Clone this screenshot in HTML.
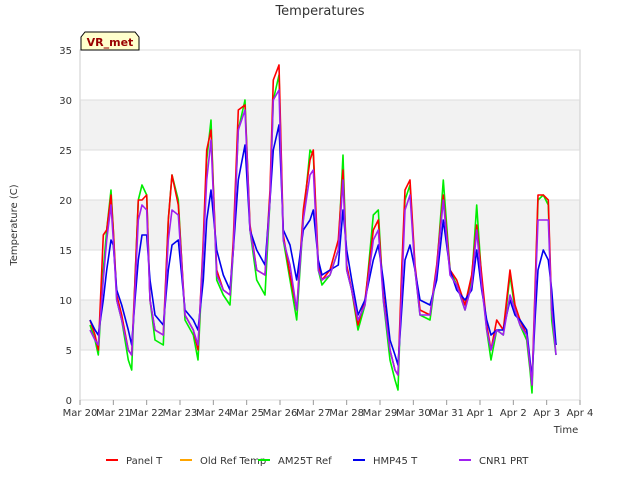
<!DOCTYPE html>
<html><head><meta charset="utf-8"><style>
body{margin:0;background:#fff;font-family:"Liberation Sans","DejaVu Sans",sans-serif}
svg text{font-family:"DejaVu Sans","Liberation Sans",sans-serif}
</style></head><body>
<svg id="chart" width="640" height="480">
<text x="320" y="15" text-anchor="middle" font-size="13" fill="#333">Temperatures</text>
<g id="bands"></g>
<rect x="80" y="50" width="500" height="350" fill="none" stroke="#ccc"/>
<g id="yticks"></g><g id="xticks"></g>
<g id="series"></g>
<text transform="translate(17,225) rotate(-90)" text-anchor="middle" font-size="10" fill="#333">Temperature (C)</text>
<text x="566" y="433" text-anchor="middle" font-size="10" fill="#333">Time</text>
<g>
<path d="M81,50 L81,37 L85,32 L135,32 L139,37 L139,50 Z" fill="#ffffcc" stroke="#000"/>
<text x="110" y="46" text-anchor="middle" font-size="11" font-weight="bold" fill="#990000">VR_met</text></g>
<g id="legend"></g>
</svg>
<script>
const yTicks=[0,5,10,15,20,25,30,35];
const xTickLabels=["Mar 20","Mar 21","Mar 22","Mar 23","Mar 24","Mar 25","Mar 26","Mar 27","Mar 28","Mar 29","Mar 30","Mar 31","Apr 1","Apr 2","Apr 3","Apr 4"];
const times=[0.3,0.45,0.55,0.7,0.8,0.93,1.0,1.1,1.25,1.45,1.55,1.65,1.75,1.86,2.0,2.1,2.25,2.5,2.65,2.76,2.95,3.15,3.4,3.54,3.7,3.8,3.93,4.1,4.3,4.5,4.6,4.75,4.95,5.1,5.3,5.55,5.7,5.8,5.97,6.1,6.3,6.5,6.7,6.9,7.0,7.15,7.26,7.5,7.75,7.89,8.0,8.15,8.34,8.55,8.8,8.95,9.1,9.3,9.45,9.54,9.65,9.75,9.9,10.05,10.2,10.5,10.7,10.9,11.1,11.3,11.55,11.75,11.9,12.05,12.2,12.33,12.5,12.7,12.9,13.05,13.2,13.4,13.5,13.56,13.65,13.74,13.9,14.05,14.15,14.28];
const am25t=[7.5,6,4.5,13,17,21,17,10,8,4,3,12,20,21.5,20.5,10,6,5.5,18,22.5,20,8,6.5,4,15,24,28,12,10.5,9.5,15,27,30,17,12,10.5,20,30,32.5,16,12,8,18,25,24.5,13,11.5,12.5,15,24.5,13,11,7,9.5,18.5,19,10,4,2,1,12,20,21.5,13,8.5,8,13,22,13,11.5,9,12,19.5,12,7,4,7,6.5,12.5,9,7.5,6,3,0.7,10,20,20.5,19.5,8,4.5];
const panelT=[8,6.5,5,16.5,17,20.5,17,10.5,8.5,5,4.5,12,20,20,20.5,10,7,6.5,18,22.5,19.5,8.5,7,5,16,25,27,13,11,10.5,16,29,29.5,17.5,13,12.5,21,32,33.5,16.5,12.5,9,19,24,25,13.5,12,13,16,23,13.5,11,7.5,10,17,18,10.5,5,3,2.5,13,21,22,13.5,9,8.5,13.5,20.5,13,12,9.5,12.5,17.5,12.5,7.5,5,8,7,13,9.5,8,6.5,3.5,1.5,11,20.5,20.5,20,9,5.5];
const hmp45=[8,7,6.5,10,13,16,15.5,11,9.5,7,5.5,10,14,16.5,16.5,12,8.5,7.5,13,15.5,16,9,8,7,12,18,21,15,12.5,11,15,22,25.5,17,15,13.5,20,25,27.5,17,15.5,12,17,18,19,14,12.5,13,13.5,19,15,12,8.5,10,14,15.5,12,6,4.5,3.5,9,14,15.5,13,10,9.5,12,18,13,11,10,11,15,11,8,6.5,7,7,10,8.5,8,7,4,2,8,13,15,14,11,5.5];
const cnr1=[7,6,5.5,12,16,19.5,16,10,8,5,4.5,11,18,19.5,19,10,7,6.5,16,19,18.5,8.5,7,5.5,15,22,26,12.5,11,10.5,15,27,29,17,13,12.5,20,30,31,16,13.5,9,18,22.5,23,13,12,12.5,15,22,13,11,8,9.5,16,17,10,5,3,2.5,11,19,20.5,13,8.5,8.5,13,20,12.5,11.5,9,11.5,17,11.5,7,5,7,6.5,10.5,9,7.5,6.5,3.5,1.5,10,18,18,18,9,4.5];
const X=d=>80+d*500/15, Y=v=>400-v*10;
const NS="http://www.w3.org/2000/svg";
function mk(t,a,p){const e=document.createElementNS(NS,t);for(const k in a)e.setAttribute(k,a[k]);p.appendChild(e);return e;}
const bands=document.getElementById('bands');
[[5,10],[15,20],[25,30]].forEach(b=>{const r=mk('rect',{x:80,y:Y(b[1]),width:500,height:50,fill:'#f2f2f2'},bands);

});
const yt=document.getElementById('yticks');
yTicks.forEach(v=>{const l=mk('line',{x1:80,x2:580,y1:Y(v),y2:Y(v),stroke:'#ddd'},yt);


const t=mk('text',{x:72,y:Y(v)+4,'text-anchor':'end','font-size':10,fill:'#333'},yt);t.textContent=v;

});
const xt=document.getElementById('xticks');
xTickLabels.forEach((s,i)=>{mk('line',{x1:X(i),x2:X(i),y1:400,y2:405,stroke:'#999'},xt);
const t=mk('text',{x:X(i),y:416,'text-anchor':'middle','font-size':10,fill:'#333'},xt);t.textContent=s;

});
const series=[["green",am25t,"am25t-line"],["red",panelT,"panel-t-line"],["#0000ee",hmp45,"hmp45-line"],["#a020f0",cnr1,"cnr1-prt-line"]];
const sg=document.getElementById('series');
series.forEach(s=>{const col=s[0]==="green"?"#00ee00":s[0];
const d=s[1].map((v,i)=>(i?'L':'M')+X(times[i]).toFixed(1)+','+Y(v).toFixed(1)).join('');
const p=mk('path',{d:d,fill:'none',stroke:col,'stroke-width':1.6,'stroke-linejoin':'round'},sg);

});
const lg=document.getElementById('legend');
[["Panel T","red",126],["Old Ref Temp","orange",200],["AM25T Ref","#00ee00",278],["HMP45 T","#0000ee",373],["CNR1 PRT","#a020f0",479]].forEach(e=>{
const g=mk('g',{},lg);


mk('line',{x1:e[2]-20,x2:e[2]-8,y1:460,y2:460,stroke:e[1],'stroke-width':2},g);
const t=mk('text',{x:e[2],y:464,'font-size':10,fill:'#333'},g);t.textContent=e[0];});
</script>
</body></html>
